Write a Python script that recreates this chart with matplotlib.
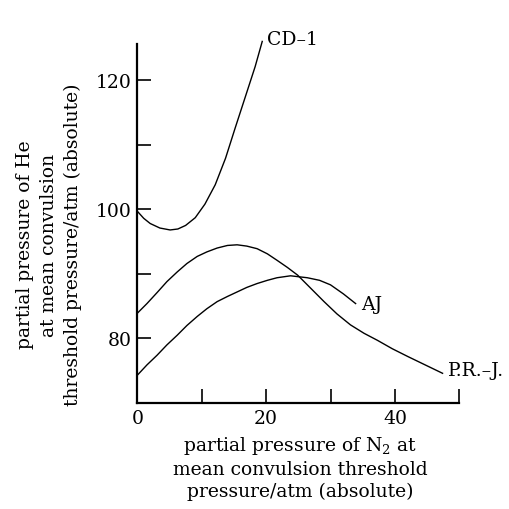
import matplotlib
matplotlib.use("Agg")
import matplotlib.pyplot as plt

plt.rcParams['font.family'] = ['DejaVu Serif']
plt.rcParams['mathtext.fontset'] = 'dejavuserif'

# CD-1
cd_x = [0, 1, 2, 3.5, 5.1, 6.3, 7.5, 9.0, 10.5, 12.1, 13.7, 15.2, 16.8, 18.3, 19.4]
cd_y = [99.7, 98.6, 97.8, 97.1, 96.8, 96.95, 97.5, 98.7, 100.8, 103.8, 107.9, 112.6, 117.5, 122.1, 126.0]

# P.R.-J.
pr_x = [0, 1.5, 3.07, 4.6, 6.2, 7.7, 9.3, 10.8, 12.4, 14.0, 15.5, 17.0, 18.6, 20.2, 21.7, 23.3, 24.9,
        27.0, 29.0, 31.0, 33.1, 35.2, 37.3, 39.6, 42.0, 44.7, 47.4]
pr_y = [83.9, 85.4, 87.1, 88.8, 90.3, 91.6, 92.7, 93.4, 94.0, 94.4, 94.5, 94.3, 93.9, 93.1, 92.1, 91.0, 89.8,
        87.7, 85.7, 83.8, 82.1, 80.8, 79.7, 78.4, 77.2, 75.9, 74.6]

# AJ
aj_x = [0, 1.5, 3.07, 4.6, 6.2, 7.7, 9.3, 10.8, 12.4, 14.0, 15.5, 17.0, 18.6, 20.2, 21.7, 23.8, 26.4,
        28.3, 30.0, 32.0, 33.9]
aj_y = [74.3, 75.9, 77.4, 79.0, 80.5, 82.0, 83.4, 84.6, 85.7, 86.5, 87.2, 87.9, 88.5, 89.0, 89.4, 89.7, 89.4,
        89.0, 88.3, 86.9, 85.4]

x_ticks = [0, 10, 20, 30, 40, 50]
x_labels = ['0', '', '20', '', '40', '']
y_ticks = [80, 90, 100, 110, 120]
y_labels = ['80', '', '100', '', '120']

fig = plt.figure(figsize=(5.09, 5.10), dpi=100)
ax = fig.add_axes([137.3/509, 1-404/510, (459.3-137.3)/509, (404-45)/510])

for xs, ys in [(cd_x, cd_y), (pr_x, pr_y), (aj_x, aj_y)]:
    ax.plot(xs, ys, color='black', lw=1.0, clip_on=False, solid_joinstyle='round')

ax.set_xlim(0, 50)
ax.set_ylim(70, 125.6)
ax.set_xticks(x_ticks)
ax.set_xticklabels(x_labels)
ax.set_yticks(y_ticks)
ax.set_yticklabels(y_labels)
ax.tick_params(direction='in', length=10, width=1.2, labelsize=13.5, pad=4)
ax.spines['top'].set_visible(False)
ax.spines['right'].set_visible(False)
ax.spines['left'].set_linewidth(1.6)
ax.spines['bottom'].set_linewidth(1.6)

ax.text(20.15, 126.4, 'CD–1', fontsize=13.5, ha='left', va='center', clip_on=False)
ax.text(34.7, 85.4, 'AJ', fontsize=13.5, ha='left', va='center')
ax.text(48.2, 75.1, 'P.R.–J.', fontsize=13.5, ha='left', va='center', clip_on=False)

fig.text(300/509, 1-468/510,
         'partial pressure of N$_2$ at\nmean convulsion threshold\npressure/atm (absolute)',
         ha='center', va='center', fontsize=13.5, multialignment='center', linespacing=1.25)
fig.text(49/509, 1-245/510,
         'partial pressure of He\nat mean convulsion\nthreshold pressure/atm (absolute)',
         ha='center', va='center', rotation=90, fontsize=13.5, multialignment='center', linespacing=1.45)

fig.savefig('out.png', dpi=100)
